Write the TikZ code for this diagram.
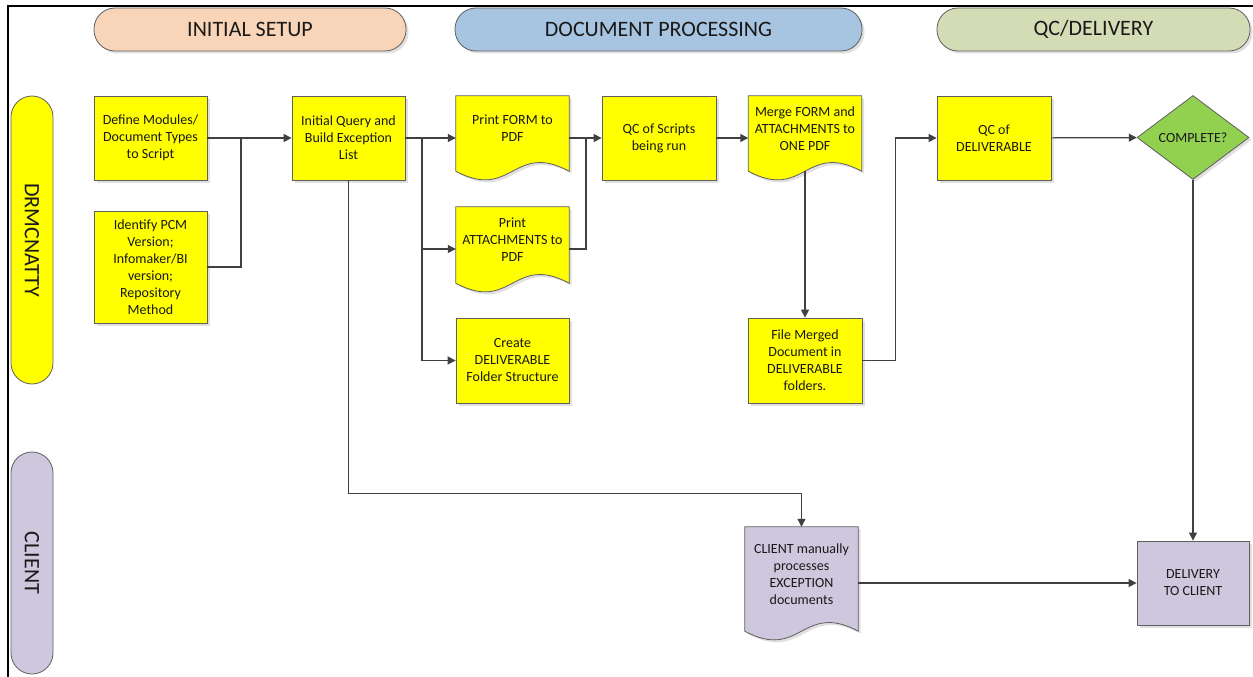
\documentclass[tikz,border=0pt]{standalone}
\usepackage{fontspec}
\setmainfont{Carlito}
\usetikzlibrary{positioning,calc,arrows.meta,shapes.geometric,shadows}

\definecolor{setupfill}{HTML}{F8D5B9}
\definecolor{procfill}{HTML}{A7C4E0}
\definecolor{qcfill}{HTML}{D4DCB6}
\definecolor{stepyellow}{HTML}{FFFF00}
\definecolor{okgreen}{HTML}{92D050}
\definecolor{clientfill}{HTML}{CEC7DD}
\definecolor{linegray}{HTML}{404040}
\definecolor{edgegray}{HTML}{5F5F5F}

\newcommand\boxfont{\fontsize{14}{17}\selectfont}
\newcommand\bigfont{\fontsize{22}{26}\selectfont}

% wavy bottom of a document shape
\newcommand\docpath[1]{(#1.north west) -- (#1.north east)
  -- ([yshift=-10pt]#1.south east)
  .. controls ([xshift=-56pt,yshift=20pt]#1.south east) and ([xshift=56pt,yshift=-40pt]#1.south west)
  .. ([yshift=-10pt]#1.south west) -- cycle}

\tikzset{
  softshadow/.style={drop shadow={shadow xshift=2.5pt,shadow yshift=-2.5pt,fill=black,opacity=0.12}},
  header/.style={draw=edgegray, line width=0.8pt, rounded corners=21pt, minimum height=43pt,
    font=\bigfont, text=black!90, softshadow},
  lane/.style={draw=edgegray, line width=0.8pt, rounded corners=21pt, minimum height=42pt,
    rotate=-90, font=\bigfont, text=black!90},
  stepbox/.style={draw=edgegray, fill=stepyellow, line width=0.8pt, align=center, inner sep=2pt,
    font=\boxfont, text=black!90, softshadow},
  docbox/.style={align=center, inner sep=2pt, minimum width=113pt, font=\boxfont, text=black!90},
  docline/.style={draw=edgegray, line width=0.8pt, softshadow},
  link/.style={draw=linegray, line width=1.2pt},
  flow/.style={link, -{Triangle[length=8pt,width=8pt]}},
}

\begin{document}
\begin{tikzpicture}[x=1pt, y=-1pt]
  \useasboundingbox (0,0) rectangle (1253,677);
  \draw[line width=2pt] (1253,6) -- (8,6) -- (8,677);

  % phases
  \node[header, fill=setupfill, minimum width=312pt] (setup) at (250,29.5) {INITIAL SETUP};
  \node[header, fill=procfill, minimum width=407pt] (proc) at (658.5,29.5) {DOCUMENT PROCESSING};
  \node[header, fill=qcfill, minimum width=313pt] (qc) at (1093.5,29.5) {QC/DELIVERY};

  % lanes
  \node[lane, fill=stepyellow, minimum width=288pt] (drm) at (32,240) {DRMCNATTY};
  \node[lane, fill=clientfill, minimum width=222pt] (cli) at (32,563) {CLIENT};

  % steps
  \node[stepbox, minimum width=113pt, minimum height=84pt] (define) at (150.5,138)
    {Define Modules/\\Document Types\\to Script};
  \node[stepbox, minimum width=113pt, minimum height=112pt] (identify) at (150.5,267)
    {Identify PCM\\Version;\\Infomaker/BI\\version;\\Repository\\Method};
  \node[stepbox, minimum width=113pt, minimum height=84pt] (query) at (348.5,138)
    {Initial Query and\\Build Exception\\List};
  \node[docbox, minimum height=65pt] (form) at (512.5,128.5) {};
  \node[docbox, minimum height=66pt] (attach) at (512.5,240) {};
  \node[stepbox, minimum width=113pt, minimum height=85pt] (create) at (512.5,360.5)
    {Create\\DELIVERABLE\\Folder Structure};
  \node[stepbox, minimum width=114pt, minimum height=84pt] (scripts) at (659,138)
    {QC of Scripts\\being run};
  \node[docbox, minimum height=65pt] (merge) at (805,128.5) {};
  \node[stepbox, minimum width=114pt, minimum height=85pt] (filed) at (805,360.5)
    {File Merged\\Document in\\DELIVERABLE\\folders.};
  \node[stepbox, minimum width=114pt, minimum height=84pt] (qcdel) at (994,138)
    {QC of\\DELIVERABLE};
  \node[diamond, draw=edgegray, fill=okgreen, line width=0.8pt, inner sep=0pt, softshadow,
    minimum width=112pt, minimum height=84pt, font=\boxfont, text=black!90] (complete) at (1193,137.5)
    {COMPLETE?};
  \node[docbox, minimum height=94pt] (client) at (801.5,574) {};
  \node[stepbox, fill=clientfill, minimum width=112pt, minimum height=84pt] (delivery) at (1193,583)
    {DELIVERY\\TO CLIENT};

  % document shapes
  \draw[docline, fill=stepyellow] \docpath{form};
  \draw[docline, fill=stepyellow] \docpath{attach};
  \draw[docline, fill=stepyellow] \docpath{merge};
  \draw[docline, fill=clientfill] \docpath{client};
  \node[docbox] at (form) {Print FORM to\\PDF};
  \node[docbox] at (attach) {Print\\ATTACHMENTS to\\PDF};
  \node[docbox] at (merge) {Merge FORM and\\ATTACHMENTS to\\ONE PDF};
  \node[docbox] at (client) {CLIENT manually\\processes\\EXCEPTION\\documents};

  % connectors
  \coordinate (j1) at (241,138);
  \coordinate (j2) at (422,138);
  \coordinate (j3) at (586,138);
  \draw[flow] (define) -- (query);
  \draw[link] (identify.east) -| (j1);
  \draw[flow] (query.east) -- (query.east -| form.west);
  \draw[flow] (j2) |- ([yshift=-9pt]attach.west);
  \draw[flow] (j2) |- (create.west);
  \draw[flow] (form.east |- scripts.west) -- (scripts.west);
  \draw[link] ([yshift=-9pt]attach.east) -| (j3);
  \draw[flow] (scripts.east) -- (scripts.east -| merge.west);
  \draw[flow] ([yshift=-10pt]merge.south) -- (filed.north);
  \draw[flow] (filed.east) -- ++(33,0) |- (qcdel.west);
  \draw[flow] (qcdel) -- (complete);
  \draw[flow] (complete.south) -- (delivery.north);
  \draw[flow] (query.south) -- ++(0,313) -| (client.north);
  \draw[flow] (client.east |- delivery.west) -- (delivery.west);
\end{tikzpicture}
\end{document}
